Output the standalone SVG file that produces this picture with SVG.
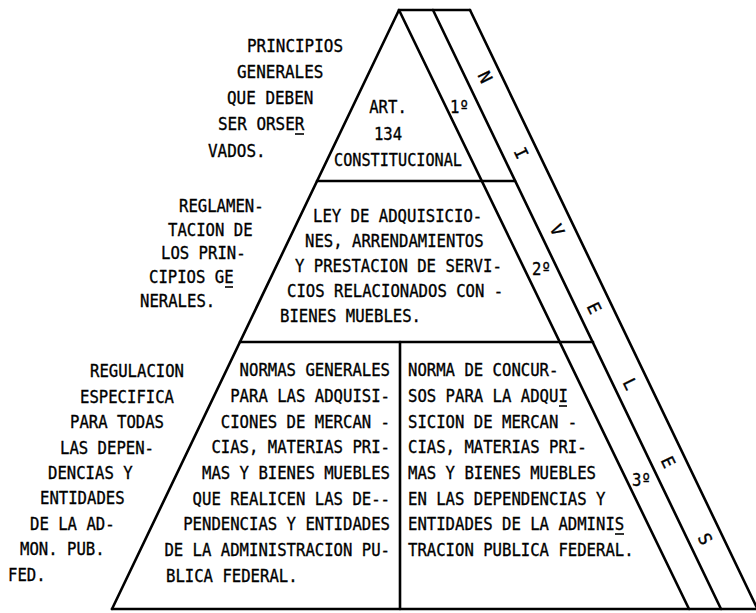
<svg xmlns="http://www.w3.org/2000/svg" width="756" height="613" viewBox="0 0 756 613">
<style>
.ln{stroke:#000;stroke-width:2.6;fill:none;stroke-linecap:round}
.ul{stroke:#000;stroke-width:1.6}
.t{font-family:"DejaVu Sans Mono","Liberation Mono",monospace;font-size:17.5px;fill:#000;stroke:#000;stroke-width:0.35}
.tb{font-size:18px}
.m{text-anchor:middle}
</style>
<rect width="756" height="613" fill="#fff"/>
<g id="pyramid">
<path class="ln" d="M112,609 L399,10 L470,10"/>
<path class="ln" d="M399,10 L689,609"/>
<path class="ln" d="M433,10 L721,609"/>
<path class="ln" d="M470,10 L757,608"/>
<path class="ln" d="M112,609 L756,609"/>
<path class="ln" d="M317,181 L515,181"/>
<path class="ln" d="M240,342 L593,342"/>
<path class="ln" d="M400,342 L400,609"/>
</g>
<g id="niveles" class="t m">
<text transform="translate(485,77) rotate(64)" y="6">N</text>
<text transform="translate(521,153) rotate(64)" y="6">I</text>
<text transform="translate(557,230) rotate(64)" y="6">V</text>
<text transform="translate(594,308) rotate(64)" y="6">E</text>
<text transform="translate(630,384) rotate(64)" y="6">L</text>
<text transform="translate(668,462) rotate(64)" y="6">E</text>
<text transform="translate(705,539) rotate(64)" y="6">S</text>
</g>
<g id="grados" class="t">
<text x="450" y="113" textLength="18.8" lengthAdjust="spacingAndGlyphs">1º</text>
<text x="532" y="275" textLength="18.8" lengthAdjust="spacingAndGlyphs">2º</text>
<text x="632" y="486" textLength="18.8" lengthAdjust="spacingAndGlyphs">3º</text>
</g>
<g id="principios" class="t tb">
<text x="247" y="52" textLength="96" lengthAdjust="spacingAndGlyphs">PRINCIPIOS</text>
<text x="237" y="78" textLength="86.4" lengthAdjust="spacingAndGlyphs">GENERALES</text>
<text x="227" y="104" textLength="86.4" lengthAdjust="spacingAndGlyphs">QUE DEBEN</text>
<text x="218" y="130" textLength="86.4" lengthAdjust="spacingAndGlyphs">SER ORSER</text>
<text x="208" y="157" textLength="57.6" lengthAdjust="spacingAndGlyphs">VADOS.</text>
<line class="ul" x1="295" y1="134" x2="304" y2="134"/>
</g>
<g id="nivel1" class="t m">
<text x="388" y="113" textLength="37.6" lengthAdjust="spacingAndGlyphs">ART.</text>
<text x="388" y="140" textLength="28.2" lengthAdjust="spacingAndGlyphs">134</text>
<text x="398" y="166" textLength="128" lengthAdjust="spacingAndGlyphs">CONSTITUCIONAL</text>
</g>
<g id="reglamentacion" class="t">
<text x="179" y="212" textLength="84.6" lengthAdjust="spacingAndGlyphs">REGLAMEN-</text>
<text x="168" y="236" textLength="84.6" lengthAdjust="spacingAndGlyphs">TACION DE</text>
<text x="161" y="259" textLength="84.6" lengthAdjust="spacingAndGlyphs">LOS PRIN-</text>
<text x="149" y="283" textLength="84.6" lengthAdjust="spacingAndGlyphs">CIPIOS GE</text>
<text x="140" y="307" textLength="75.2" lengthAdjust="spacingAndGlyphs">NERALES.</text>
<line class="ul" x1="225" y1="287" x2="233" y2="287"/>
</g>
<g id="nivel2" class="t">
<text x="313" y="222" textLength="169.2" lengthAdjust="spacingAndGlyphs">LEY DE ADQUISICIO-</text>
<text x="305" y="247" textLength="178.6" lengthAdjust="spacingAndGlyphs">NES, ARRENDAMIENTOS</text>
<text x="295" y="272" textLength="206.8" lengthAdjust="spacingAndGlyphs">Y PRESTACION DE SERVI-</text>
<text x="287" y="297" textLength="216.2" lengthAdjust="spacingAndGlyphs">CIOS RELACIONADOS CON -</text>
<text x="280" y="322" textLength="141" lengthAdjust="spacingAndGlyphs">BIENES MUEBLES.</text>
</g>
<g id="regulacion" class="t">
<text x="90" y="377" textLength="94" lengthAdjust="spacingAndGlyphs">REGULACION</text>
<text x="80" y="403" textLength="94" lengthAdjust="spacingAndGlyphs">ESPECIFICA</text>
<text x="70" y="428" textLength="94" lengthAdjust="spacingAndGlyphs">PARA TODAS</text>
<text x="60" y="454" textLength="94" lengthAdjust="spacingAndGlyphs">LAS DEPEN-</text>
<text x="48" y="479" textLength="84.6" lengthAdjust="spacingAndGlyphs">DENCIAS Y</text>
<text x="40" y="504" textLength="84.6" lengthAdjust="spacingAndGlyphs">ENTIDADES</text>
<text x="30" y="530" textLength="84.6" lengthAdjust="spacingAndGlyphs">DE LA AD-</text>
<text x="20" y="555" textLength="84.6" lengthAdjust="spacingAndGlyphs">MON. PUB.</text>
<text x="8" y="581" textLength="37.6" lengthAdjust="spacingAndGlyphs">FED.</text>
</g>
<g id="nivel3-normas" class="t">
<text x="239.6" y="376" textLength="150.4" lengthAdjust="spacingAndGlyphs">NORMAS GENERALES</text>
<text x="230.2" y="402" textLength="159.8" lengthAdjust="spacingAndGlyphs">PARA LAS ADQUISI-</text>
<text x="220.8" y="427.5" textLength="169.2" lengthAdjust="spacingAndGlyphs">CIONES DE MERCAN -</text>
<text x="211.4" y="453" textLength="178.6" lengthAdjust="spacingAndGlyphs">CIAS, MATERIAS PRI-</text>
<text x="202" y="479" textLength="188" lengthAdjust="spacingAndGlyphs">MAS Y BIENES MUEBLES</text>
<text x="192.6" y="504.5" textLength="197.4" lengthAdjust="spacingAndGlyphs">QUE REALICEN LAS DE--</text>
<text x="183.2" y="530" textLength="206.8" lengthAdjust="spacingAndGlyphs">PENDENCIAS Y ENTIDADES</text>
<text x="164.4" y="556" textLength="225.6" lengthAdjust="spacingAndGlyphs">DE LA ADMINISTRACION PU-</text>
<text x="166" y="581.5" textLength="131.6" lengthAdjust="spacingAndGlyphs">BLICA FEDERAL.</text>
</g>
<g id="nivel3-concursos" class="t">
<text x="408" y="376" textLength="150.4" lengthAdjust="spacingAndGlyphs">NORMA DE CONCUR-</text>
<text x="408" y="402" textLength="159.8" lengthAdjust="spacingAndGlyphs">SOS PARA LA ADQUI</text>
<text x="408" y="427.5" textLength="169.2" lengthAdjust="spacingAndGlyphs">SICION DE MERCAN -</text>
<text x="408" y="453" textLength="178.6" lengthAdjust="spacingAndGlyphs">CIAS, MATERIAS PRI-</text>
<text x="408" y="479" textLength="188" lengthAdjust="spacingAndGlyphs">MAS Y BIENES MUEBLES</text>
<text x="408" y="504.5" textLength="197.4" lengthAdjust="spacingAndGlyphs">EN LAS DEPENDENCIAS Y</text>
<text x="408" y="530" textLength="216.2" lengthAdjust="spacingAndGlyphs">ENTIDADES DE LA ADMINIS</text>
<text x="408" y="556" textLength="225.6" lengthAdjust="spacingAndGlyphs">TRACION PUBLICA FEDERAL.</text>
<line class="ul" x1="559" y1="406" x2="567" y2="406"/>
<line class="ul" x1="615" y1="534" x2="624" y2="534"/>
</g>
</svg>
